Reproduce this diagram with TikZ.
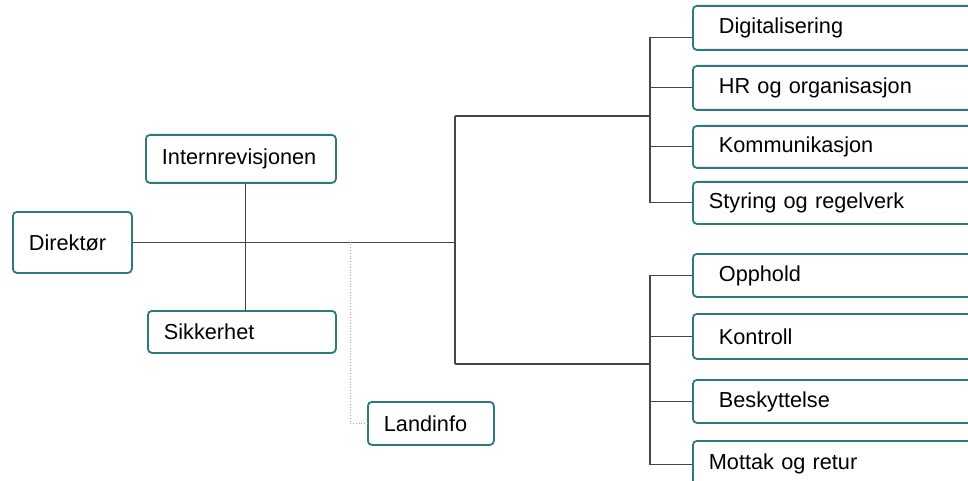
\documentclass[tikz,border=0pt]{standalone}
\usepackage{fontspec}
\setmainfont{Liberation Sans}
\usepackage{tikz}
\usetikzlibrary{positioning}
\definecolor{unitteal}{RGB}{45,122,124}
\definecolor{linegray}{RGB}{70,70,70}

\begin{document}
\begin{tikzpicture}[x=1pt,y=-1pt,
    unit/.style={draw=unitteal, line width=1.8pt, rounded corners=4pt, fill=white,
        anchor=north west, inner xsep=16pt, inner ysep=0pt, align=left,
        font=\fontsize{21.7}{24}\selectfont},
    wide/.style={unit, text width=288pt},
    link/.style={draw=linegray, line width=1.1pt}]
    \useasboundingbox (0,0) rectangle (968,481);
    \begin{scope}
    \clip (0,0) rectangle (968,481);

    % stab
    \node[unit, text width=87pt, minimum height=61pt] (dir) at (12,211) {Direktør};
    \node[unit, text width=158pt, minimum height=48pt] (intern) at (145,134) {Internrevisjonen};
    \node[unit, text width=156pt, minimum height=42pt] (sikk) at (147,310) {Sikkerhet};
    \node[unit, text width=94pt, minimum height=43pt] (land) at (367,401) {Landinfo};

    % avdelinger
    \node[wide, minimum height=44pt] (digi) at (692,5) {\hspace{10pt}Digitalisering};
    \node[wide, minimum height=44pt] (hr) at (692,65) {\hspace{10pt}HR og organisasjon};
    \node[wide, minimum height=42pt] (komm) at (692,125) {\hspace{10pt}Kommunikasjon};
    \node[wide, minimum height=42pt] (styr) at (692,181) {Styring og regelverk};

    \node[wide, minimum height=43pt] (opph) at (692,253) {\hspace{10pt}Opphold};
    \node[wide, minimum height=45pt] (kontr) at (692,313) {\hspace{10pt}Kontroll};
    \node[wide, minimum height=43pt] (besk) at (692,379) {\hspace{10pt}Beskyttelse};
    \node[wide, minimum height=46pt] (mott) at (692,440) {Mottak og retur};

    \coordinate (hub) at (455,241.5);
    \coordinate (top) at (455,116);
    \coordinate (bot) at (455,364);
    \coordinate (ua) at (650,116);
    \coordinate (la) at (650,364);
    \coordinate (ld) at (350,241.5);

    \draw[link] (dir.east) -- (dir.east -| hub);
    \draw[link] ([xshift=5pt]intern.south) -- ([xshift=4pt]sikk.north);
    \draw[link] (top) -- (bot);
    \draw[link] (top) -- (ua);
    \draw[link] (bot) -- (la);
    \draw[dotted, gray!70, line width=0.8pt] (ld) |- (land.west);

    \draw[link] ([yshift=-10pt]digi.west) -| (ua);
    \draw[link] (ua) |- (styr.west);
    \foreach \n in {hr,komm}
        \draw[link] (\n.west) -- (\n.west -| ua);

    \draw[link] (opph.west) -| (la);
    \draw[link] (la) |- ([yshift=-1pt]mott.west);
    \foreach \n in {kontr,besk}
        \draw[link] (\n.west) -- (\n.west -| la);
    \end{scope}
\end{tikzpicture}
\end{document}
